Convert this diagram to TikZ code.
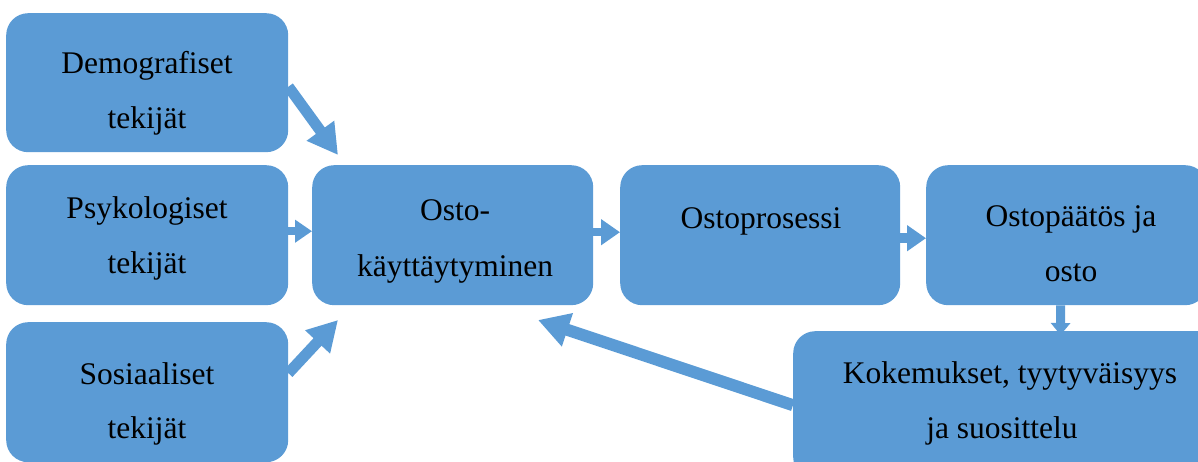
\documentclass[tikz,border=0pt]{standalone}
\usepackage{fontspec}
\setmainfont{Liberation Serif}
\usetikzlibrary{arrows.meta}
\definecolor{boxblue}{HTML}{5B9BD5}
\begin{document}
\begin{tikzpicture}[x=1pt,y=-1pt,
  box/.style={fill=boxblue, draw=none, rounded corners=22pt, inner sep=0pt, anchor=north west},
  lbl/.style={font=\fontsize{31.5}{38}\selectfont, inner sep=0pt, anchor=base, text=black},
  bigarrow/.style={draw=boxblue, line width=12pt, -{Triangle[length=31pt,width=33pt]}},
  smallarrow/.style={draw=boxblue, line width=8pt, -{Triangle[length=17pt,width=22pt]}}
]
\useasboundingbox (0,0) rectangle (1198,462);
\clip (0,0) rectangle (1198,462);
% boxes
\node[box, minimum width=282pt, minimum height=139pt] (demo) at (6,13) {};
\node[box, minimum width=282pt, minimum height=140pt] (psyk) at (6,165) {};
\node[box, minimum width=282pt, minimum height=140pt] (sos) at (6,322) {};
\node[box, minimum width=281pt, minimum height=140pt] (osto) at (312,165) {};
\node[box, minimum width=280pt, minimum height=140pt] (proc) at (620,165) {};
\node[box, minimum width=281pt, minimum height=140pt] (paat) at (926,165) {};
\node[box, minimum width=440pt, minimum height=148pt] (koke) at (793,331) {};
% texts
\node[lbl] (demoA) at (147,74) {Demografiset};
\node[lbl] (demoB) at (147,129) {tekijät};
\node[lbl] (psykA) at (147,219) {Psykologiset};
\node[lbl] (psykB) at (147,273) {tekijät};
\node[lbl] (sosA) at (147,384) {Sosiaaliset};
\node[lbl] (sosB) at (147,438) {tekijät};
\node[lbl] (ostoA) at (455,221) {Osto-};
\node[lbl] (ostoB) at (455,276) {käyttäytyminen};
\node[lbl] (procA) at (761,229) {Ostoprosessi};
\node[lbl] (paatA) at (1071,226) {Ostopäätös ja};
\node[lbl] (paatB) at (1071,281) {osto};
\node[lbl] (kokeA) at (1010,383) {Kokemukset, tyytyväisyys};
\node[lbl] (kokeB) at (1002,438) {ja suosittelu};
% arrow tips
\coordinate (t1) at (338,155);
\coordinate (t3) at (338,320);
\coordinate (t6) at (1060.5,335);
\coordinate (t7) at (538,320);
% arrows
\draw[bigarrow, line width=11pt, -{Triangle[length=30pt,width=32pt]}] ([yshift=-4pt]demo.east) -- (t1);
\draw[smallarrow] ([yshift=4pt]psyk.east) -- ([yshift=4pt]osto.west);
\draw[bigarrow, line width=11pt, -{Triangle[length=30pt,width=32pt]}] ([yshift=19pt]sos.east) -- (t3);
\draw[smallarrow, -{Triangle[length=19pt,width=25pt]}] ([yshift=3pt]osto.east) -- ([yshift=3pt]proc.west);
\draw[smallarrow, line width=10pt, -{Triangle[length=19pt,width=25pt]}] ([yshift=-3pt]proc.east) -- ([yshift=-3pt]paat.west);
\draw[smallarrow, line width=9pt, -{Triangle[length=12pt,width=19pt]}] ([xshift=-6pt]paat.south) -- (t6);
\draw[bigarrow] ([yshift=0pt]koke.west) -- (t7);
\end{tikzpicture}
\end{document}
